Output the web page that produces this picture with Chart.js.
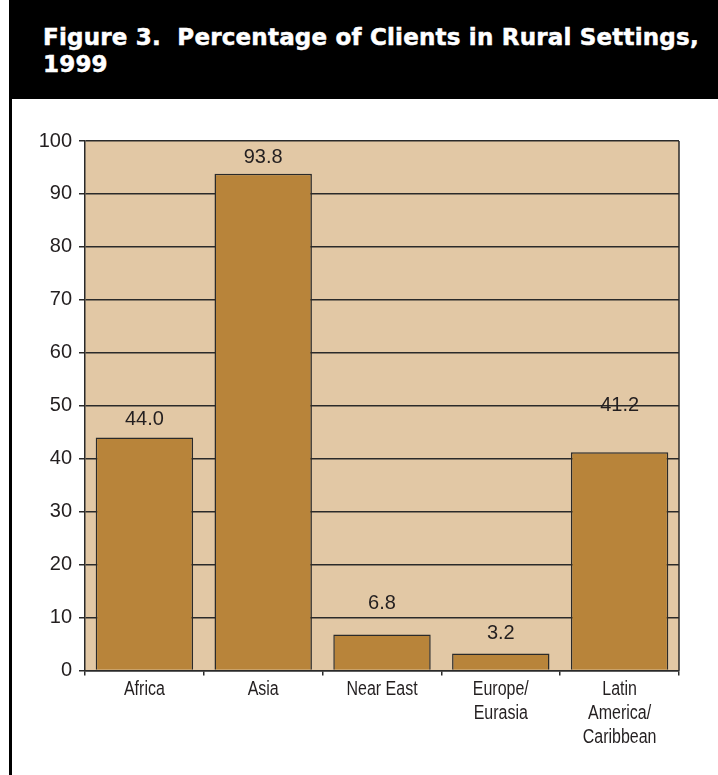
<!DOCTYPE html>
<html>
<head>
<meta charset="utf-8">
<script src="https://cdn.jsdelivr.net/npm/chart.js@4/dist/chart.umd.min.js"></script>
<style>
  html, body { margin: 0; padding: 0; background: #ffffff; }
  #page { position: relative; width: 718px; height: 775px; overflow: hidden; }
  #frame { position: absolute; left: 9px; top: 99px; width: 3px; height: 676px; background: #000; }
  #header {
    position: absolute; left: 9px; top: 0; width: 709px; height: 99px; background: #000;
    color: #fff; font-family: "DejaVu Sans", sans-serif; font-weight: bold; font-size: 23px;
    line-height: 27px; box-sizing: border-box; padding: 24px 0 0 34px; white-space: pre;
    letter-spacing: 0.2px; -webkit-text-stroke: 0.5px #fff;
  }
  #wrap { position: absolute; left: 12px; top: 99px; width: 706px; height: 676px; }
</style>
</head>
<body>
<div id="page">
  <div id="header">Figure 3.  Percentage of Clients in Rural Settings,
1999</div>
  <div id="frame"></div>
  <div id="wrap"><canvas id="chart" width="706" height="676"></canvas></div>
</div>
<script>
// Regions and share of clients living in rural settings (%)
const categories = [["Africa"], ["Asia"], ["Near East"], ["Europe/", "Eurasia"], ["Latin", "America/", "Caribbean"]];
const ruralShare = [44.0, 93.8, 6.8, 3.2, 41.2];
const yTicks = [0, 10, 20, 30, 40, 50, 60, 70, 80, 90, 100];

const INK = "#231f20";
const LINE = "#2a2a2a";

// Vertical gap between each bar top and the centre of its value label
const labelGaps = [18, 16, 31, 20, 47];

const plotBackground = {
  id: "plotBackground",
  beforeDraw(chart) {
    const { ctx, chartArea: a } = chart;
    ctx.save();
    ctx.fillStyle = "#e2c8a5";
    ctx.fillRect(a.left, a.top, a.right - a.left, a.bottom - a.top);
    ctx.restore();
  },
  afterDatasetsDraw(chart) {
    const { ctx, chartArea: a } = chart;
    ctx.save();
    ctx.strokeStyle = LINE;
    ctx.lineWidth = 1.5;
    ctx.beginPath();
    ctx.moveTo(a.right, a.top);
    ctx.lineTo(a.right, a.bottom);
    ctx.stroke();
    ctx.restore();
  }
};

const valueLabels = {
  id: "valueLabels",
  afterDatasetsDraw(chart) {
    const { ctx } = chart;
    const meta = chart.getDatasetMeta(0);
    ctx.save();
    ctx.fillStyle = INK;
    ctx.font = "20px 'Liberation Sans', Arial, sans-serif";
    ctx.textAlign = "center";
    ctx.textBaseline = "middle";
    meta.data.forEach((bar, i) => {
      ctx.fillText(ruralShare[i].toFixed(1), bar.x, bar.y - labelGaps[i]);
    });
    ctx.restore();
  }
};

// Category names in a narrowed face, centred under each category of the x scale
const categoryLabels = {
  id: "categoryLabels",
  afterDraw(chart) {
    const { ctx } = chart;
    const xs = chart.scales.x;
    ctx.save();
    ctx.fillStyle = INK;
    ctx.font = "20px 'Liberation Sans', Arial, sans-serif";
    ctx.textAlign = "center";
    ctx.textBaseline = "middle";
    categories.forEach((lines, i) => {
      const cx = xs.getPixelForTick(i);
      lines.forEach((txt, j) => {
        const cy = xs.top + 19 + j * 24;
        ctx.save();
        ctx.translate(cx, cy);
        ctx.scale(0.8, 1);
        ctx.fillText(txt, 0, 0);
        ctx.restore();
      });
    });
    ctx.restore();
  }
};

new Chart(document.getElementById("chart"), {
  type: "bar",
  data: {
    labels: categories,
    datasets: [{
      data: ruralShare,
      backgroundColor: "#b8843a",
      borderColor: LINE,
      borderWidth: 1.5,
      barPercentage: 0.82,
      categoryPercentage: 1.0
    }]
  },
  options: {
    responsive: false,
    animation: false,
    layout: { padding: { left: 0, right: 39, top: 42, bottom: 0 } },
    plugins: {
      legend: { display: false },
      tooltip: { enabled: false },
      title: { display: false }
    },
    scales: {
      x: {
        offset: true,
        grid: {
          offset: true,
          drawOnChartArea: false,
          drawTicks: true,
          tickLength: 5,
          color: LINE,
          lineWidth: 1.5
        },
        border: { display: true, color: LINE, width: 1.5 },
        ticks: { display: false },
        afterFit(scale) { scale.height = 104.5; }
      },
      y: {
        min: 0,
        max: 100,
        afterBuildTicks(scale) { scale.ticks = yTicks.map(v => ({ value: v })); },
        grid: {
          color: LINE,
          lineWidth: 1.5,
          drawTicks: true,
          tickLength: 6
        },
        border: { display: true, color: LINE, width: 1.5 },
        ticks: {
          color: INK,
          padding: 7,
          font: { family: "'Liberation Sans', Arial, sans-serif", size: 20 }
        },
        afterFit(scale) { scale.width = 73; }
      }
    }
  },
  plugins: [plotBackground, valueLabels, categoryLabels]
});
</script>
</body>
</html>
